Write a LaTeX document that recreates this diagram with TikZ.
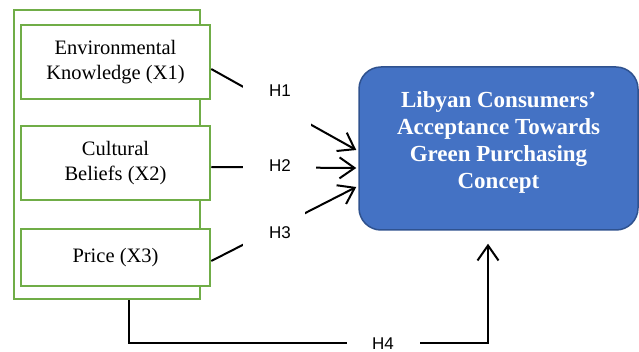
\documentclass[tikz,border=0pt]{standalone}
\usepackage{fontspec}
\setmainfont{Liberation Serif}
\setsansfont{Liberation Sans}
\usetikzlibrary{arrows.meta,positioning}
\definecolor{boxGreen}{HTML}{70AD47}
\definecolor{dvBlue}{HTML}{4472C4}
\definecolor{dvEdge}{HTML}{2F528F}

\begin{document}
\begin{tikzpicture}[
    x=1pt, y=-1pt,
    frameBox/.style={
        rectangle, draw=boxGreen, line width=2.5pt, inner sep=0pt,
        minimum width=186pt, minimum height=289pt
    },
    ivNode/.style={
        rectangle, draw=boxGreen, line width=2.5pt, fill=white,
        minimum width=189pt, align=center, inner sep=0pt,
        font=\fontsize{20.5}{25}\selectfont
    },
    dvNode/.style={
        rectangle, rounded corners=22pt, draw=dvEdge, line width=1.5pt,
        fill=dvBlue, minimum width=279pt, minimum height=163pt
    },
    dvText/.style={
        align=center, text=white, font=\fontsize{23}{27}\selectfont\bfseries
    },
    hypArrow/.style={
        -{Straight Barb[length=15pt, width=21pt]}, line width=2pt, draw=black
    },
    gapNode/.style={fill=white, inner sep=0pt, minimum height=48pt},
    hypLabel/.style={font=\sffamily\fontsize{17}{20}\selectfont}
]
\useasboundingbox (0,0) rectangle (639,352);

% Left: independent variables
\node[frameBox] (frame) at (107,154.5) {};
\node[ivNode, minimum height=74pt] (envKnow) at (115.5,62) {Environmental\\Knowledge (X1)};
\node[ivNode, minimum height=74pt] (culBel) at (115.5,163) {Cultural\\Beliefs (X2)};
\node[ivNode, minimum height=57pt] (price) at (115.5,257.5) {Price (X3)};

% Right: dependent variable
\node[dvNode] (dv) at (498.5,148.5) {};
\node[dvText] (dvLabel) at (498.5,142) {Libyan Consumers'\\Acceptance Towards\\Green Purchasing\\Concept};

% Hypotheses
\draw[hypArrow] ([yshift=-7pt]envKnow.east) -- node[gapNode, pos=0.456, minimum width=68pt] {} ([xshift=-2pt,yshift=-1.5pt]dv.west);
\draw[hypArrow] ([yshift=-4pt]culBel.east) -- node[gapNode, pos=0.473, minimum width=73pt] {} ([xshift=-2pt,yshift=-19.5pt]dv.west);
\draw[hypArrow] ([yshift=-3.5pt]price.east) -- node[gapNode, pos=0.435, minimum width=62pt] {} ([xshift=-2pt,yshift=-38.5pt]dv.west);
\draw[hypArrow] ([xshift=22pt]frame.south) -- ++(0,43) -- node[gapNode, pos=0.709, minimum width=73pt] {} ++(359,0) -- ([xshift=-10.5pt,yshift=-13pt]dv.south);

\node[hypLabel] (h1) at (280,91) {H1};
\node[hypLabel] (h2) at (280,166) {H2};
\node[hypLabel] (h3) at (280,233) {H3};
\node[hypLabel] (h4) at (383,344) {H4};

\end{tikzpicture}
\end{document}
